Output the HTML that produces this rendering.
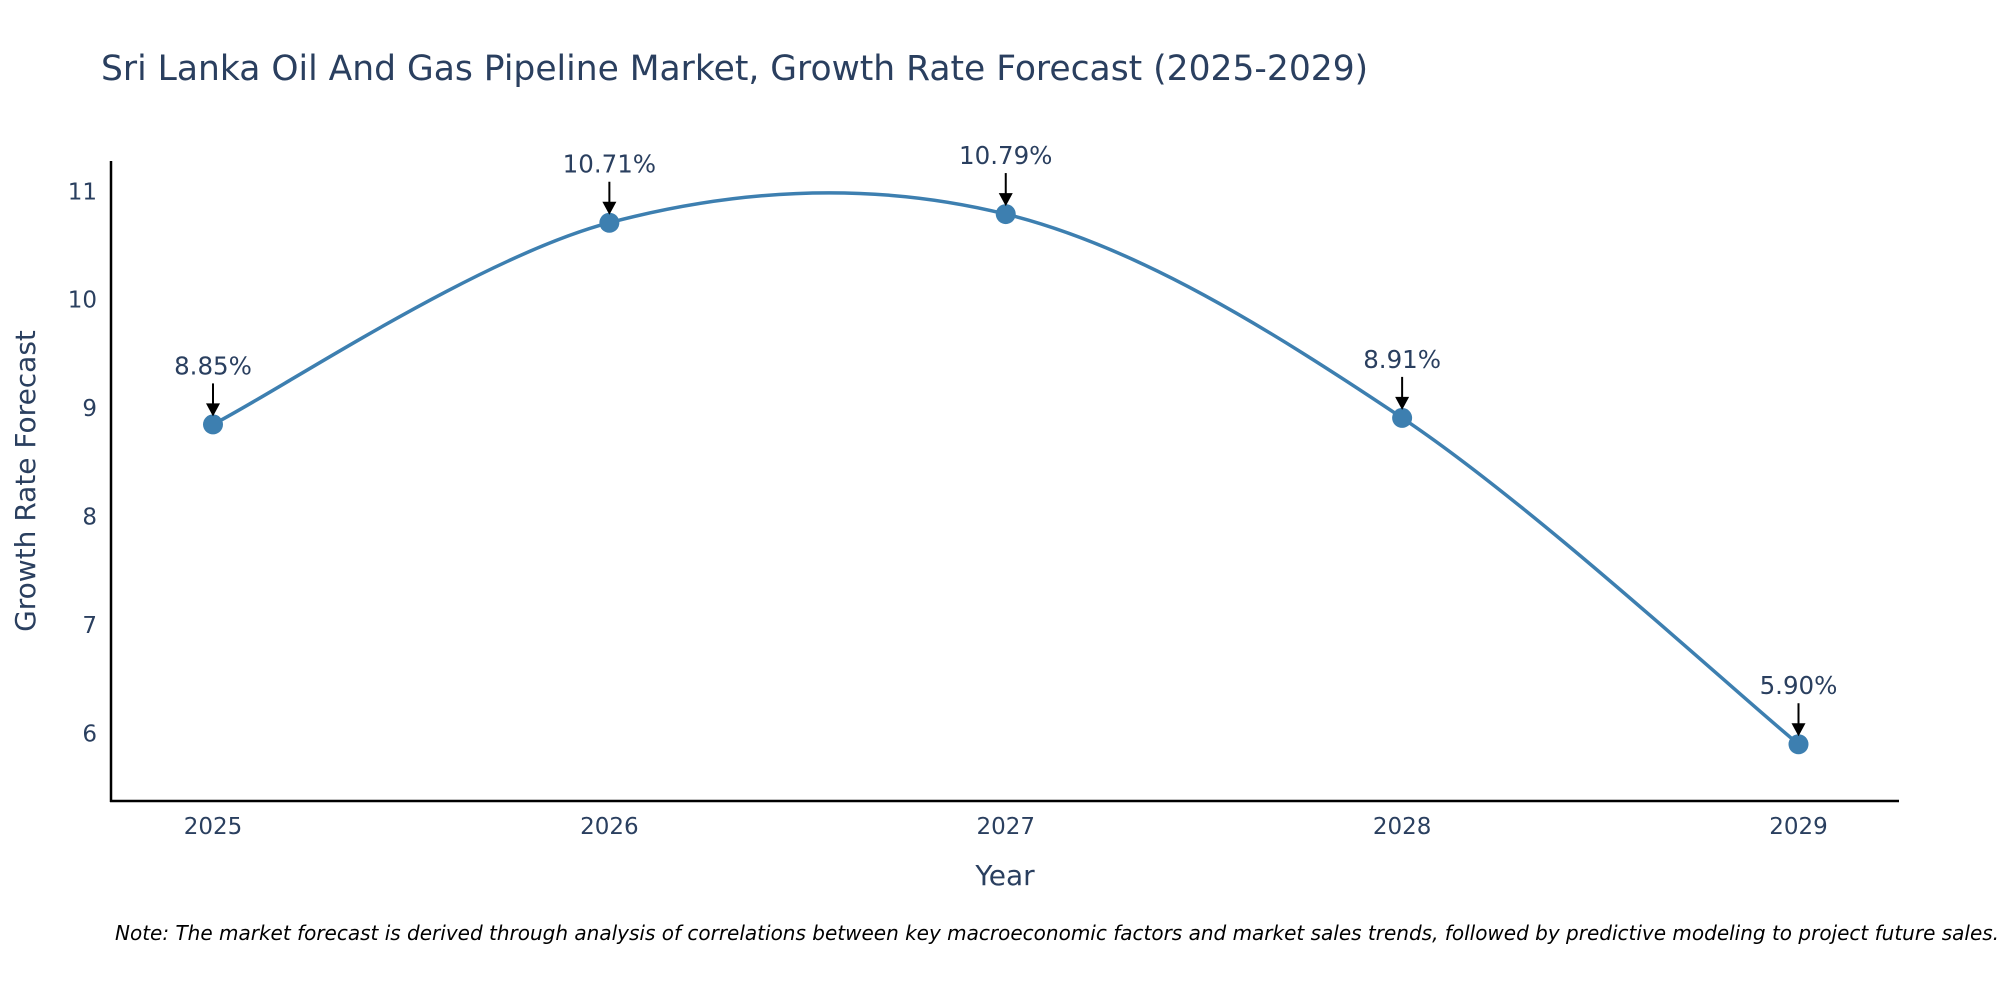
<!DOCTYPE html>
<html><head><meta charset="utf-8"><style>
body{margin:0;background:#fff;overflow:hidden;}
svg{display:block;font-family:"DejaVu Sans","Liberation Sans",sans-serif;}
</style></head><body>
<svg id="chart" width="2000" height="1000">
<text x="101" y="80" font-size="34.5" fill="#2a3f5f">Sri Lanka Oil And Gas Pipeline Market, Growth Rate Forecast (2025-2029)</text>
<g id="yticks"></g><g id="xticks"></g>
<line x1="111" y1="161" x2="111" y2="802" stroke="#000" stroke-width="2.5"/>
<line x1="110" y1="801" x2="1899" y2="801" stroke="#000" stroke-width="2.5"/>
<path id="line" fill="none" stroke="#3d7fb0" stroke-width="3.5"/>
<g id="points"></g><g id="annots"></g>
<text x="1005" y="885" font-size="28" fill="#2a3f5f" text-anchor="middle">Year</text>
<text transform="translate(35,481) rotate(-90)" font-size="28" fill="#2a3f5f" text-anchor="middle">Growth Rate Forecast</text>
<text x="115" y="940" font-size="20" font-style="italic" fill="#000">Note: The market forecast is derived through analysis of correlations between key macroeconomic factors and market sales trends, followed by predictive modeling to project future sales.</text>
</svg>
<script>
const years=[2025,2026,2027,2028,2029];
const values=[8.85,10.71,10.79,8.91,5.90];
const labels=["8.85%","10.71%","10.79%","8.91%","5.90%"];
const yTicks=[6,7,8,9,10,11];
const NS="http://www.w3.org/2000/svg";
const xs=v=>213+(v-2025)*(1798.5-213)/4;
const ys=v=>733.4-(v-6)*(733.4-191.3)/5;
function mk(t,a,p){const e=document.createElementNS(NS,t);for(const k in a)e.setAttribute(k,a[k]);document.getElementById(p).appendChild(e);return e;}
yTicks.forEach(t=>{const e=mk('text',{x:97,y:ys(t)+8,'font-size':23,fill:'#2a3f5f','text-anchor':'end'},'yticks');e.textContent=t;

});
years.forEach(y=>{const e=mk('text',{x:xs(y),y:834,'font-size':23,fill:'#2a3f5f','text-anchor':'middle'},'xticks');e.textContent=y;

});
const P=years.map((y,i)=>[xs(y),ys(values[i])]);
let d=`M${P[0][0]},${P[0][1]}`;
for(let i=0;i<P.length-1;i++){const p0=P[Math.max(0,i-1)],p1=P[i],p2=P[i+1],p3=P[Math.min(P.length-1,i+2)];
const t=1/6;
d+=` C${p1[0]+(p2[0]-p0[0])*t},${p1[1]+(p2[1]-p0[1])*t} ${p2[0]-(p3[0]-p1[0])*t},${p2[1]-(p3[1]-p1[1])*t} ${p2[0]},${p2[1]}`;}
document.getElementById('line').setAttribute('d',d);
P.forEach((p,i)=>{const c=mk('circle',{cx:p[0],cy:p[1],r:10,fill:'#3d7fb0'},'points');


const l=mk('line',{x1:p[0],y1:p[1]-41,x2:p[0],y2:p[1]-20,stroke:'#000','stroke-width':2},'annots');


const h=mk('polygon',{points:`${p[0]-7},${p[1]-21} ${p[0]+7},${p[1]-21} ${p[0]},${p[1]-8}`,fill:'#000'},'annots');


const t=mk('text',{x:p[0],y:p[1]-50,'font-size':24.5,fill:'#2a3f5f','text-anchor':'middle'},'annots');t.textContent=labels[i];

});
</script>
</body></html>
